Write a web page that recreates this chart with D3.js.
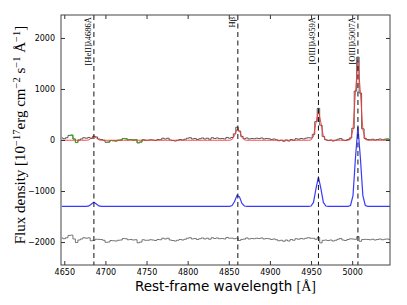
<!DOCTYPE html>
<html>
<head>
<meta charset="utf-8">
<script src="https://cdn.jsdelivr.net/npm/d3@7"></script>
<style>
    body { margin: 0; background: #fff; }
    .axis text { font-family: "DejaVu Sans", sans-serif; font-size: 8px; fill: #000; }
    .axis line { stroke: #333; }
</style>
</head>
<body>
<div id="chart"></div>
<script>
// wavelength grid of the spectrum (first bin and bin width, in Angstrom)
const waveStart = 4647;
const waveStep = 3;

// observed flux per bin
const flux = [
    40, 25, 45, 90, 95, 20, -50, 0, 20, 45,
    35, 50, 30, 75, 60, 20, 10, -5, -45, -40,
    -10, -15, -20, -5, 0, 30, 25, 5, 10, 0,
    5, -55, -40, 5, -5, -5, 5, 0, -10, 10,
    5, 35, 20, 35, 0, -10, -20, -5, 10, 0,
    15, 35, 45, 20, 30, 10, 25, 40, 20, 35,
    15, 45, 30, 40, 25, 30, 20, 50, 35, 50,
    120, 250, 175, 70, 25, 40, 20, 30, 25, 35,
    30, 40, 20, 30, 25, 10, 20, 5, -15, -5,
    -25, 0, -20, 10, -5, 25, 15, 30, 20, 35,
    45, 40, 110, 360, 620, 290, 70, 5, -10, 0,
    -20, -5, 15, 30, 0, -10, 10, 40, 230, 960,
    1625, 920, 220, 30, 10, 5, 15, 0, 10, 20,
    5, 15, 20, 10
];

// bins drawn in green (first and last index)
const greenRanges = [[3, 7], [18, 34], [131, 133]];

// fitted continuum level
const continuum = -5;

// emission line components, per bin, from the given start index
const lineNames = ["[HeII]λ4686Å", "Hβ", "[OIII]λ4959Å", "[OIII]λ5007Å"];
const lineWaves = [4686, 4861, 4959, 5007];
const lineStarts = [11, 69, 101, 117];
const heiiComp = [8, 45, 80, 45, 8];
const hbetaComp = [14, 95, 215, 185, 58, 7];
const oiii4959Comp = [6, 77, 346, 570, 346, 77, 6];
const oiii5007Comp = [17, 211, 946, 1560, 946, 211, 17];
const lineComps = [heiiComp, hbetaComp, oiii4959Comp, oiii5007Comp];

// vertical offsets of the component and residual traces
const compOffset = -1300;
const residOffset = -1965;

const xTicks = [4650, 4700, 4750, 4800, 4850, 4900, 4950, 5000];
const yTicks = [-2000, -1000, 0, 1000, 2000];

/*
SETTING UP THE SVG CANVAS
*/
const width = 407;
const height = 305;
const margin = { top: 15, left: 61, right: 17, bottom: 40 };

const svg = d3.select("#chart")
    .append("svg")
    .attr("width", width)
    .attr("height", height);

/*
BUILD THE TRACES
*/
const comps = flux.map(() => 0);
lineComps.forEach(function (c, k) {
    c.forEach(function (v, j) {
        comps[lineStarts[k] + j] += v;
    });
});

const spectrum = flux.map((f, i) => ({ w: waveStart + i * waveStep, v: f }));
const model = comps.map((c, i) => ({ w: waveStart + i * waveStep, v: continuum + c }));
const blue = comps.map((c, i) => ({ w: waveStart + i * waveStep, v: compOffset + c }));
const resid = flux.map((f, i) => ({ w: waveStart + i * waveStep, v: residOffset + f - model[i].v }));

/*
DEFINE SCALES
*/
const xScale = d3.scaleLinear()
    .domain([4646, 5046])
    .range([margin.left, width - margin.right]);

const yScale = d3.scaleLinear()
    .domain([-2450, 2450])
    .range([height - margin.bottom, margin.top]);

svg.append("clipPath")
    .attr("id", "plot-clip")
    .append("rect")
    .attr("x", margin.left)
    .attr("y", margin.top)
    .attr("width", width - margin.left - margin.right)
    .attr("height", height - margin.top - margin.bottom);

const stepLine = d3.line()
    .x(d => xScale(d.w))
    .y(d => yScale(d.v))
    .curve(d3.curveStep);

const smoothLine = d3.line()
    .x(d => xScale(d.w))
    .y(d => yScale(d.v));

/*
DRAW THE MARKS
*/
const plot = svg.append("g").attr("clip-path", "url(#plot-clip)");

plot.append("path")
    .datum(spectrum)
    .attr("d", stepLine)
    .attr("fill", "none")
    .attr("stroke", "#333")
    .attr("stroke-width", 0.8);

greenRanges.forEach(function (r) {
    plot.append("path")
        .datum(spectrum.slice(r[0], r[1] + 1))
        .attr("d", stepLine)
        .attr("fill", "none")
        .attr("stroke", "#33aa22")
        .attr("stroke-width", 1);
});

plot.append("path")
    .datum(model)
    .attr("d", smoothLine)
    .attr("fill", "none")
    .attr("stroke", "#ff3333")
    .attr("stroke-width", 0.9);

plot.append("path")
    .datum(blue)
    .attr("d", smoothLine)
    .attr("fill", "none")
    .attr("stroke", "#3a3aff")
    .attr("stroke-width", 1.2);

plot.append("path")
    .datum(resid)
    .attr("d", stepLine)
    .attr("fill", "none")
    .attr("stroke", "#555")
    .attr("stroke-width", 0.8);

// line positions
plot.selectAll(".lineMark")
    .data(lineWaves)
    .enter()
    .append("line")
    .attr("class", "lineMark")
    .attr("x1", d => xScale(d))
    .attr("x2", d => xScale(d))
    .attr("y1", margin.top)
    .attr("y2", height - margin.bottom)
    .attr("stroke", "#111")
    .attr("stroke-width", 1)
    .attr("stroke-dasharray", "5,3.5");

svg.selectAll(".lineName")
    .data(lineNames)
    .enter()
    .append("text")
    .attr("class", "lineName")
    .attr("transform", (d, i) => `translate(${xScale(lineWaves[i]) - 3},${margin.top + 2}) rotate(-90)`)
    .attr("text-anchor", "end")
    .attr("font-family", "Liberation Serif, serif")
    .attr("font-size", 8.5)
    .text(d => d);

/*
GENERATE AXES
*/
svg.append("g")
    .attr("class", "axis")
    .attr("transform", `translate(0,${height - margin.bottom})`)
    .call(d3.axisBottom(xScale).tickValues(xTicks).tickSize(-4).tickSizeOuter(0).tickPadding(4).tickFormat(d3.format("d")))
    .call(g => g.select(".domain").remove());

svg.append("g")
    .attr("class", "axis")
    .attr("transform", `translate(0,${margin.top})`)
    .call(d3.axisTop(xScale).tickValues(xTicks).tickSize(-4).tickSizeOuter(0).tickFormat(""))
    .call(g => g.select(".domain").remove());

svg.append("g")
    .attr("class", "axis")
    .attr("transform", `translate(${margin.left},0)`)
    .call(d3.axisLeft(yScale).tickValues(yTicks).tickSize(-4).tickSizeOuter(0).tickPadding(6).tickFormat(d3.format("d")))
    .call(g => g.select(".domain").remove());

svg.append("g")
    .attr("class", "axis")
    .attr("transform", `translate(${width - margin.right},0)`)
    .call(d3.axisRight(yScale).tickValues(yTicks).tickSize(-4).tickSizeOuter(0).tickFormat(""))
    .call(g => g.select(".domain").remove());

svg.append("rect")
    .attr("x", margin.left)
    .attr("y", margin.top)
    .attr("width", width - margin.left - margin.right)
    .attr("height", height - margin.top - margin.bottom)
    .attr("fill", "none")
    .attr("stroke", "#444")
    .attr("stroke-width", 1);

/*
ADDING AXIS LABELS
*/
const xLabel = svg.append("text")
    .attr("x", (margin.left + width - margin.right) / 2)
    .attr("y", height - 14)
    .attr("text-anchor", "middle")
    .attr("font-family", "DejaVu Sans, sans-serif")
    .attr("font-size", 13.5);
xLabel.append("tspan").text("Rest-frame wavelength ");
xLabel.append("tspan").attr("font-family", "Liberation Serif, serif").attr("font-size", 14).text("[Å]");

const yLabel = svg.append("text")
    .attr("transform", `translate(25,${(margin.top + height - margin.bottom) / 2 - 5}) rotate(-90)`)
    .attr("text-anchor", "middle")
    .attr("font-family", "Liberation Serif, serif")
    .attr("font-size", 15);
yLabel.append("tspan").text("Flux density [10");
yLabel.append("tspan").attr("font-size", 10.5).attr("dy", -5).text("−17");
yLabel.append("tspan").attr("dy", 5).text("erg cm");
yLabel.append("tspan").attr("font-size", 10.5).attr("dy", -5).text("−2");
yLabel.append("tspan").attr("dy", 5).text(" s");
yLabel.append("tspan").attr("font-size", 10.5).attr("dy", -5).text("−1");
yLabel.append("tspan").attr("dy", 5).text(" Å");
yLabel.append("tspan").attr("font-size", 10.5).attr("dy", -5).text("−1");
yLabel.append("tspan").attr("dy", 5).text("]");
</script>
</body>
</html>
